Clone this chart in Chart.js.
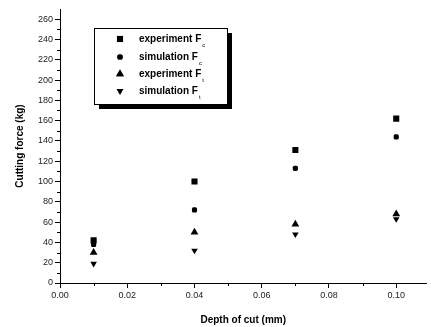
<!DOCTYPE html>
<html>
<head>
<meta charset="utf-8">
<script src="https://cdn.jsdelivr.net/npm/chart.js@4/dist/chart.umd.min.js"></script>
<style>
  html, body { margin: 0; padding: 0; background: #fff; }
  #wrap { width: 431px; height: 327px; }
</style>
</head>
<body>
<div id="wrap"><canvas id="forceChart"></canvas></div>
<script>
// depth of cut (mm)
const depths = [0.01, 0.04, 0.07, 0.10];

// cutting force (kg)
const expFc = [42, 100, 131, 162];
const simFc = [38, 72, 113, 144];
const expFt = [30, 50, 58, 68];
const simFt = [19, 32, 48, 63];

const seriesNames = ["experiment F", "simulation F", "experiment F", "simulation F"];
const seriesSubs = ["c", "c", "t", "t"];

const xTitle = "Depth of cut (mm)";
const yTitle = "Cutting force (kg)";

function toPoints(vals) {
  return vals.map((v, i) => ({ x: depths[i], y: v }));
}

/* -------------------------------
   MINOR TICKS + TITLES + LEGEND
--------------------------------*/
const extras = {
  id: "extras",
  afterDraw(chart) {
    const ctx = chart.ctx;
    const xs = chart.scales.x;
    const ys = chart.scales.y;
    const area = chart.chartArea;

    ctx.save();
    ctx.strokeStyle = "#000";
    ctx.lineWidth = 1;

    // minor ticks
    for (let v = 0.01; v < xs.max; v += 0.02) {
      const px = Math.round(xs.getPixelForValue(v)) + 0.5;
      ctx.beginPath();
      ctx.moveTo(px, area.bottom);
      ctx.lineTo(px, area.bottom + 3);
      ctx.stroke();
    }
    for (let v = 10; v < ys.max; v += 20) {
      const py = Math.round(ys.getPixelForValue(v)) + 0.5;
      ctx.beginPath();
      ctx.moveTo(area.left, py);
      ctx.lineTo(area.left - 3, py);
      ctx.stroke();
    }

    // axis titles
    ctx.fillStyle = "#000";
    ctx.font = "bold 10px 'Liberation Sans', Arial, sans-serif";
    ctx.textAlign = "center";
    ctx.textBaseline = "middle";
    ctx.fillText(xTitle, (area.left + area.right) / 2, 320);
    ctx.save();
    ctx.translate(20, (area.top + area.bottom) / 2);
    ctx.rotate(-Math.PI / 2);
    ctx.fillText(yTitle, 0, 0);
    ctx.restore();

    // legend box with shadow
    const bx = 94, by = 28, bw = 133, bh = 76;
    ctx.fillRect(bx + 5, by + 5, bw, bh);
    ctx.fillStyle = "#fff";
    ctx.fillRect(bx, by, bw, bh);
    ctx.strokeRect(bx + 0.5, by + 0.5, bw, bh);

    const rows = [39, 57, 74, 91];
    chart.data.datasets.forEach((ds, i) => {
      ctx.fillStyle = "#000";
      Chart.helpers.drawPoint(ctx, {
        pointStyle: ds.pointStyle,
        rotation: ds.pointRotation || 0,
        radius: ds.pointRadius,
        borderWidth: 0
      }, 120, rows[i]);
      ctx.fill();
      ctx.font = "bold 10px 'Liberation Sans', Arial, sans-serif";
      ctx.textAlign = "left";
      ctx.textBaseline = "middle";
      ctx.fillText(seriesNames[i], 139, rows[i]);
      const w = ctx.measureText(seriesNames[i]).width;
      ctx.font = "6px 'Liberation Sans', Arial, sans-serif";
      ctx.fillText(seriesSubs[i], 139 + w + 1, rows[i] + 6);
    });
    ctx.restore();
  }
};

/* -------------------------------
   CHART
--------------------------------*/
const tickFont = { family: "'Liberation Sans', Arial, sans-serif", size: 9 };

new Chart(document.getElementById("forceChart"), {
  type: "scatter",
  data: {
    datasets: [
      { label: "experiment Fc", data: toPoints(expFc), pointStyle: "rect", pointRadius: 4.3 },
      { label: "simulation Fc", data: toPoints(simFc), pointStyle: "rectRounded", pointRadius: 3 },
      { label: "experiment Ft", data: toPoints(expFt), pointStyle: "triangle", pointRadius: 4.5 },
      { label: "simulation Ft", data: toPoints(simFt), pointStyle: "triangle", pointRotation: 180, pointRadius: 3.8 }
    ].map(d => Object.assign(d, {
      backgroundColor: "#000",
      borderColor: "#000",
      borderWidth: 0
    }))
  },
  options: {
    responsive: true,
    maintainAspectRatio: false,
    animation: false,
    layout: { padding: { top: 9, right: 1, left: 0, bottom: 0 } },
    plugins: {
      legend: { display: false },
      tooltip: { enabled: false }
    },
    scales: {
      x: {
        type: "linear",
        min: 0,
        max: 0.109,
        afterFit: s => { s.height = 44; },
        border: { display: true, color: "#000", width: 1 },
        grid: { drawOnChartArea: false, drawTicks: true, tickLength: 5, color: "#000" },
        ticks: {
          stepSize: 0.02,
          includeBounds: false,
          color: "#222",
          font: tickFont,
          padding: 2,
          maxRotation: 0,
          callback: v => v.toFixed(2)
        }
      },
      y: {
        min: 0,
        max: 270,
        afterFit: s => { s.width = 60; },
        border: { display: true, color: "#000", width: 1 },
        grid: { drawOnChartArea: false, drawTicks: true, tickLength: 5, color: "#000" },
        ticks: {
          stepSize: 20,
          includeBounds: false,
          color: "#222",
          font: tickFont,
          padding: 2
        }
      }
    }
  },
  plugins: [extras]
});
</script>
</body>
</html>
